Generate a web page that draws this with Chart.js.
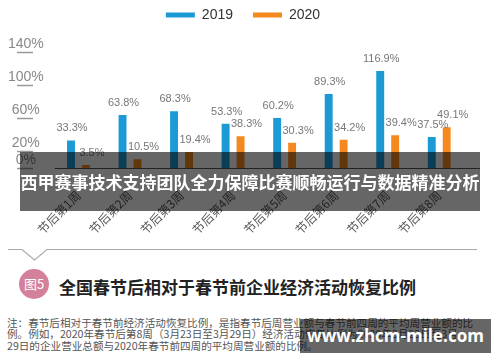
<!DOCTYPE html>
<html>
<head>
<meta charset="utf-8">
<script src="https://cdn.jsdelivr.net/npm/chart.js@4.4.1/dist/chart.umd.min.js"></script>
<style>
  html, body { margin: 0; padding: 0; background: #fff; }
  body { position: relative; width: 500px; height: 362px; overflow: hidden; font-family: "Noto Sans CJK SC", sans-serif; }
  #wrap { position: absolute; left: 0; top: 0; width: 500px; height: 240px; }
  .shade { position: absolute; background: rgba(0, 0, 0, 0.6); color: #fff; font-weight: bold; text-align: center; white-space: nowrap; }
  .banner { left: 20px; top: 152px; width: 460px; height: 59px; line-height: 59px; font-size: 17px; }
  .mark { left: 300px; top: 319px; width: 191px; height: 34px; line-height: 34px; font-size: 17px; font-family: "Open Sans", sans-serif; }
  .badge { position: absolute; left: 19px; top: 269px; width: 30px; height: 30px; border-radius: 50%; background: #d4809a; color: #fff; font-size: 13px; line-height: 30px; text-align: center; }
  .title { position: absolute; left: 59px; top: 276px; font-size: 17px; line-height: 22px; font-weight: bold; color: #222; white-space: nowrap; }
  .note { position: absolute; left: 7px; top: 317px; font-size: 10.6px; line-height: 11.4px; color: #555; white-space: nowrap; }
</style>
</head>
<body>
<div id="wrap"><canvas id="chart" width="500" height="240"></canvas></div>

<div class="shade banner">西甲赛事技术支持团队全力保障比赛顺畅运行与数据精准分析</div>

<svg style="position:absolute;left:0;top:240px" width="500" height="24">
  <polyline points="8,9.5 22,9.5 34.5,20 47,9.5 477,9.5" fill="none" stroke="#aaa" stroke-width="1.2"/>
</svg>
<div class="badge">图5</div>
<div class="title">全国春节后相对于春节前企业经济活动恢复比例</div>
<div class="note">
  <div>注：春节后相对于春节前经济活动恢复比例，是指春节后周营业额与春节前四周的平均周营业额的比</div>
  <div>例。例如，2020年春节后第8周（3月23日至3月29日）经济活动恢复比例为2020年3月23日至3月</div>
  <div>29日的企业营业总额与2020年春节前四周的平均周营业额的比例。</div>
</div>
<div class="shade mark">www.zhcm-mile.com</div>

<script>
// data
const categories = ['节后第1周', '节后第2周', '节后第3周', '节后第4周', '节后第5周', '节后第6周', '节后第7周', '节后第8周'];
const values2019 = [33.3, 63.8, 68.3, 53.3, 60.2, 89.3, 116.9, 37.5];
const values2020 = [3.5, 10.5, 19.4, 38.3, 30.3, 34.2, 39.4, 49.1];
const yTicks = [0, 20, 60, 100, 140];

const BLUE = '#1b9ad6';
const ORANGE = '#f5891f';

// value labels over the bars + short underlines under the y labels + baseline
const decorations = {
  id: 'decorations',
  afterDatasetsDraw(chart) {
    const { ctx, chartArea } = chart;
    const y = chart.scales.y;
    ctx.save();

    ctx.strokeStyle = '#999';
    ctx.lineWidth = 1.5;
    y.ticks.forEach(t => {
      const py = Math.round(y.getPixelForValue(t.value)) + 0.5;
      ctx.beginPath();
      ctx.moveTo(17, py);
      ctx.lineTo(33, py);
      ctx.stroke();
    });

    ctx.strokeStyle = '#555';
    ctx.lineWidth = 1;
    const by = Math.round(chartArea.bottom) + 0.5;
    ctx.beginPath();
    ctx.moveTo(chartArea.left + 2, by);
    ctx.lineTo(chartArea.right + 15, by);
    ctx.stroke();

    ctx.font = '11px "Liberation Sans", Arial, sans-serif';
    ctx.fillStyle = '#777';
    ctx.textAlign = 'center';
    ctx.textBaseline = 'middle';
    chart.data.datasets.forEach((ds, di) => {
      const dx = di === 0 ? 1 : 6;
      chart.getDatasetMeta(di).data.forEach((bar, i) => {
        ctx.fillText(ds.data[i] + '%', bar.x + dx, bar.y - 12);
      });
    });
    ctx.restore();
  }
};

new Chart(document.getElementById('chart'), {
  type: 'bar',
  data: {
    labels: categories,
    datasets: [
      { label: '2019', data: values2019, backgroundColor: BLUE },
      { label: '2020', data: values2020, backgroundColor: ORANGE }
    ]
  },
  options: {
    responsive: false,
    animation: false,
    categoryPercentage: 0.58,
    barPercentage: 0.53,
    layout: { padding: { top: -12, right: 14, left: 0, bottom: 0 } },
    plugins: {
      legend: {
        position: 'top',
        labels: {
          boxWidth: 29,
          boxHeight: 5,
          padding: 20,
          color: '#333',
          font: { size: 14, family: '"Liberation Sans", Arial, sans-serif' }
        }
      },
      tooltip: { enabled: false }
    },
    scales: {
      x: {
        grid: { display: false },
        border: { display: false },
        ticks: {
          minRotation: 45,
          maxRotation: 45,
          padding: 12,
          color: '#555',
          font: { size: 12, family: '"Noto Sans CJK SC", sans-serif' }
        },
        afterFit: (s) => { s.height = 72; }
      },
      y: {
        min: 0,
        max: 164,
        grid: { display: false, drawTicks: false },
        border: { display: false },
        afterBuildTicks: (s) => { s.ticks = yTicks.map(v => ({ value: v })); },
        ticks: {
          crossAlign: 'center',
          padding: 9,
          labelOffset: -8,
          color: '#888',
          font: { size: 14, family: '"Liberation Sans", Arial, sans-serif' },
          callback: (v) => v + '%'
        },
        afterFit: (s) => { s.width = 52.7; }
      },
      // empty right-hand axis, only keeps room on the right of the plot
      yRight: {
        position: 'right',
        grid: { display: false },
        border: { display: false },
        ticks: { display: false },
        afterFit: (s) => { s.width = 21; }
      }
    }
  },
  plugins: [decorations]
});
</script>
</body>
</html>
